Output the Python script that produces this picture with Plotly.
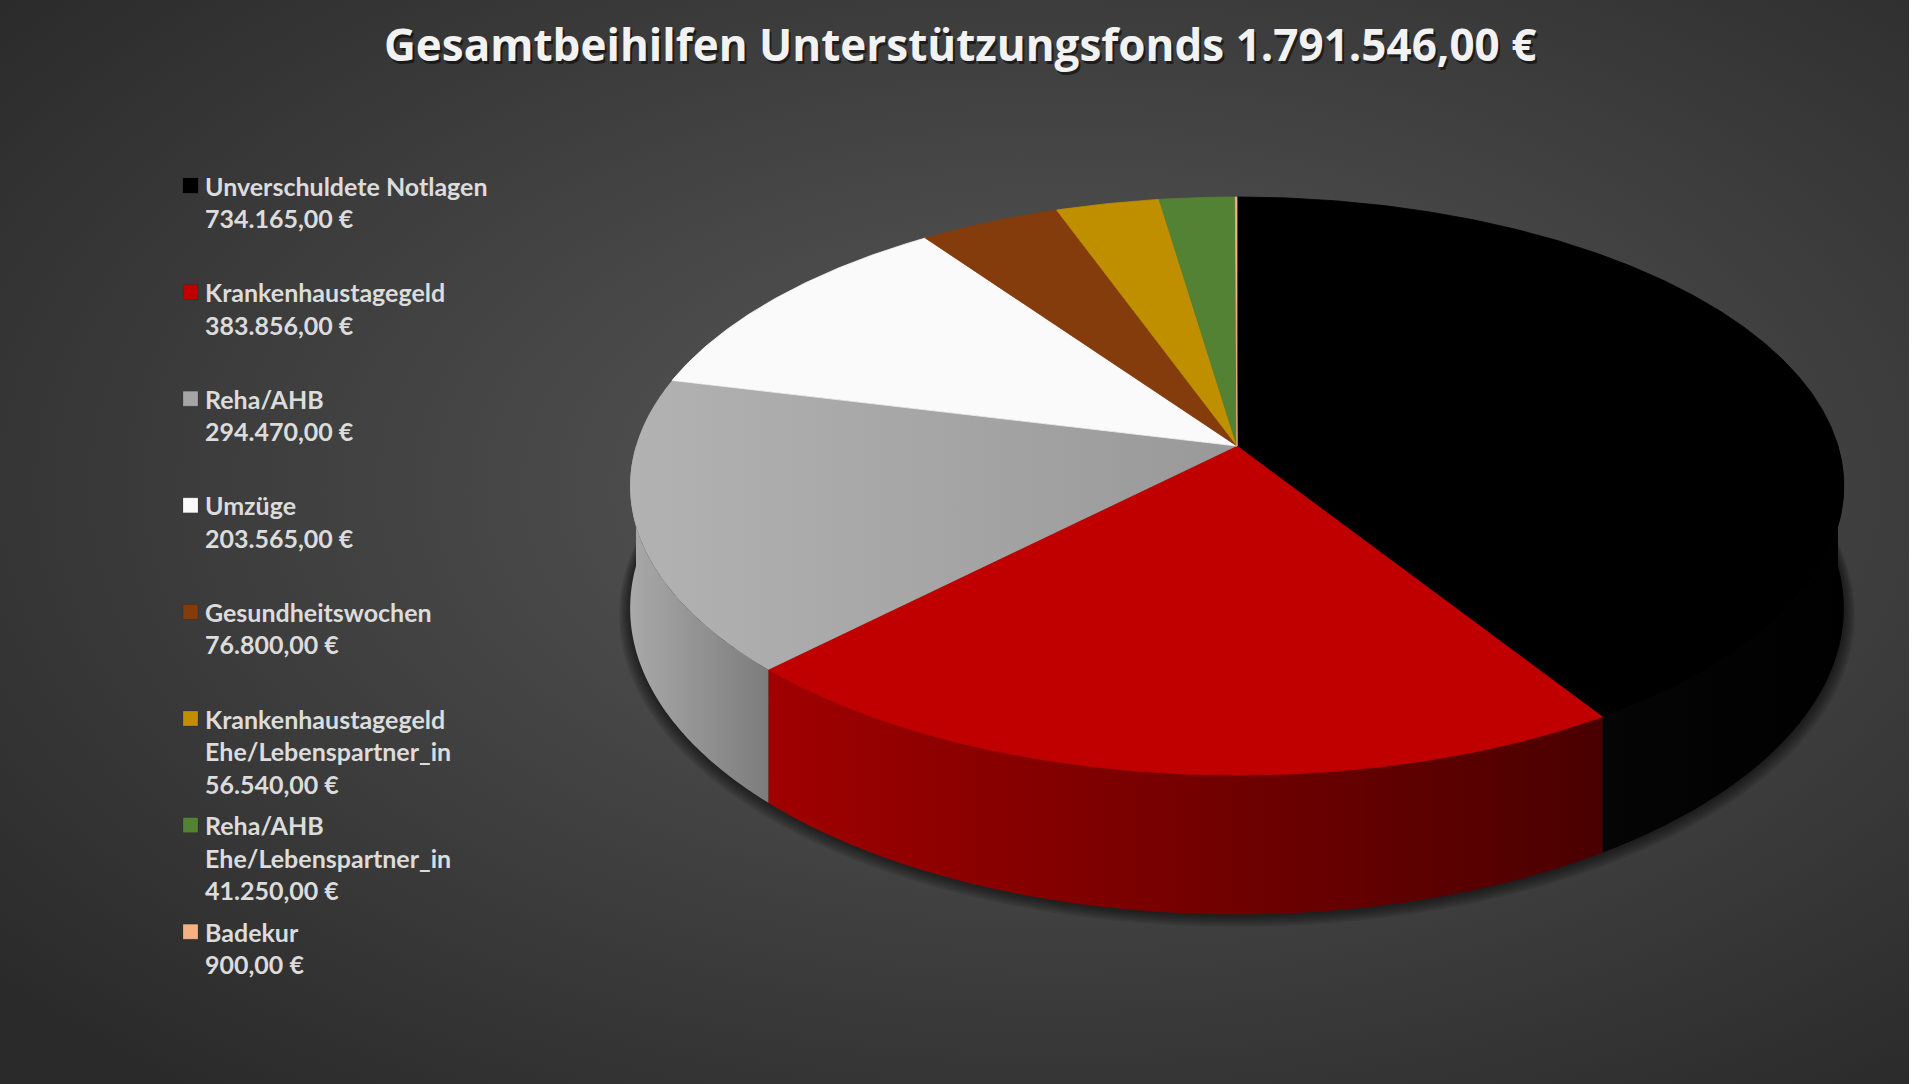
import base64
import numpy as np
import plotly.graph_objects as go

# data
categories = ["Unverschuldete Notlagen", "Krankenhaustagegeld", "Reha/AHB", "Umzüge",
              "Gesundheitswochen", "Krankenhaustagegeld\nEhe/Lebenspartner_in",
              "Reha/AHB\nEhe/Lebenspartner_in", "Badekur"]
values = [734165, 383856, 294470, 203565, 76800, 56540, 41250, 900]
colors = ["#000000", "#c00000", "#a5a5a5", "#fafafa", "#843c0c", "#bf8f00", "#548235", "#f4b183"]
wall_colors = {0: ("#050505", "#000000"), 1: ("#a00000", "#4a0000"), 2: ("#a9a9a9", "#7c7c7c")}


def euro(v):
    s = f"{v:,.2f}".replace(",", "X").replace(".", ",").replace("X", ".")
    return s + " €"


total = sum(values)
title = "Gesamtbeihilfen Unterstützungsfonds " + euro(total)

W, H_FIG = 1920, 1084
# 3d pie geometry (pixels)
cx, cy = 1237, 446
A, B, p = 601, 283.5, 0.1385
depth = 120


def proj(phi, drop=0.0):
    th = np.radians(90 - np.asarray(phi))
    c, s = np.cos(th), np.sin(th)
    d = 1 + p * s
    return cx + A * c / d, cy - B * s / d + drop / d


fig = go.Figure()

# shadow under the pie
phi_all = np.linspace(0, 360, 361)
bx, by = proj(phi_all, depth)
for k in range(1, 7):
    sc = 1 + k * 1.8 / A
    fig.add_trace(go.Scatter(x=cx + (bx - cx) * sc, y=cy + depth + (by - cy - depth) * sc + k * 1.0,
                             fill="toself", mode="none", fillcolor="rgba(0,0,0,0.1)",
                             hoverinfo="skip", showlegend=False))

cum = np.concatenate([[0], np.cumsum(values)]) / total * 360

# side walls (front half only)
for i in range(len(values)):
    a0, a1 = max(cum[i], 90), min(cum[i + 1], 270)
    if a1 <= a0:
        continue
    ph = np.linspace(a0, a1, max(int((a1 - a0) * 2), 2))
    tx, ty = proj(ph)
    ux, uy = proj(ph[::-1], depth)
    c0, c1 = wall_colors.get(i, (colors[i], colors[i]))
    fig.add_trace(go.Scatter(x=np.concatenate([tx, ux]), y=np.concatenate([ty, uy]),
                             fill="toself", mode="none",
                             fillgradient=dict(type="horizontal", colorscale=[[0, c0], [1, c1]]),
                             hoverinfo="skip", showlegend=False))

# top faces
for i in range(len(values)):
    a0, a1 = cum[i], cum[i + 1]
    ph = np.linspace(a0, a1, max(int((a1 - a0) * 2), 2))
    tx, ty = proj(ph)
    xs = np.concatenate([[cx], tx, [cx]])
    ys = np.concatenate([[cy], ty, [cy]])
    if i == 2:
        fig.add_trace(go.Scatter(x=xs, y=ys, fill="toself", mode="none",
                                 fillgradient=dict(type="horizontal",
                                                   colorscale=[[0, "#b2b2b2"], [1, "#999999"]]),
                                 hoverinfo="skip", showlegend=False))
    else:
        fig.add_trace(go.Scatter(x=xs, y=ys, fill="toself", mode="lines",
                                 line=dict(color=colors[i], width=0.8), fillcolor=colors[i],
                                 hoverinfo="skip", showlegend=False))

# legend
leg_y0, leg_step, line_h = 185.5, 106.6, 32.5
annotations = []
mx, my = [], []
for i, (cat, v) in enumerate(zip(categories, values)):
    lines = cat.split("\n") + [euro(v)]
    y0 = leg_y0 + i * leg_step
    mx.append(190.5)
    my.append(y0)
    for j, t in enumerate(lines):
        annotations.append(dict(x=203, y=y0 + j * line_h, text=t, showarrow=False,
                                xanchor="left", yanchor="middle",
                                font=dict(family="Lato", size=25, color="#dcdcdc", weight="bold")))
fig.add_trace(go.Scatter(x=mx, y=my, mode="markers", hoverinfo="skip", showlegend=False,
                         marker=dict(symbol="square", size=15, color=colors,
                                     line=dict(color="rgba(0,0,0,0.3)", width=0.5))))

# title (with soft shadow)
annotations.append(dict(x=962, y=47, text=title, showarrow=False, xanchor="center",
                        yanchor="middle",
                        font=dict(family="Open Sans", size=44, color="rgba(0,0,0,0.55)", weight="bold")))
annotations.append(dict(x=960, y=44, text=title, showarrow=False, xanchor="center",
                        yanchor="middle",
                        font=dict(family="Open Sans", size=44, color="#f2f2f2", weight="bold")))

# background radial gradient
svg = ('<svg xmlns="http://www.w3.org/2000/svg" width="1920" height="1084">'
       '<defs><radialGradient id="g" cx="55%" cy="45%" r="72%">'
       '<stop offset="0" stop-color="#5a5a5a"/><stop offset="1" stop-color="#2a2a2a"/>'
       '</radialGradient></defs><rect width="1920" height="1084" fill="url(#g)"/></svg>')
bg = "data:image/svg+xml;base64," + base64.b64encode(svg.encode()).decode()

fig.update_layout(
    width=W, height=H_FIG,
    margin=dict(l=0, r=0, t=0, b=0),
    paper_bgcolor="#3c3c3c", plot_bgcolor="rgba(0,0,0,0)",
    xaxis=dict(range=[0, W], visible=False, fixedrange=True),
    yaxis=dict(range=[H_FIG, 0], visible=False, fixedrange=True),
    annotations=annotations,
    images=[dict(source=bg, xref="paper", yref="paper", x=0, y=1, sizex=1, sizey=1,
                 xanchor="left", yanchor="top", sizing="stretch", layer="below")],
    shapes=[dict(type="rect", x0=1909, x1=W, y0=0, y1=H_FIG, fillcolor="#ffffff",
                 line=dict(width=0), layer="above")],
    showlegend=False,
)

fig.write_html("out.html", config={"displayModeBar": False},
               post_script="document.body.style.margin='0';document.body.style.overflow='hidden';")
